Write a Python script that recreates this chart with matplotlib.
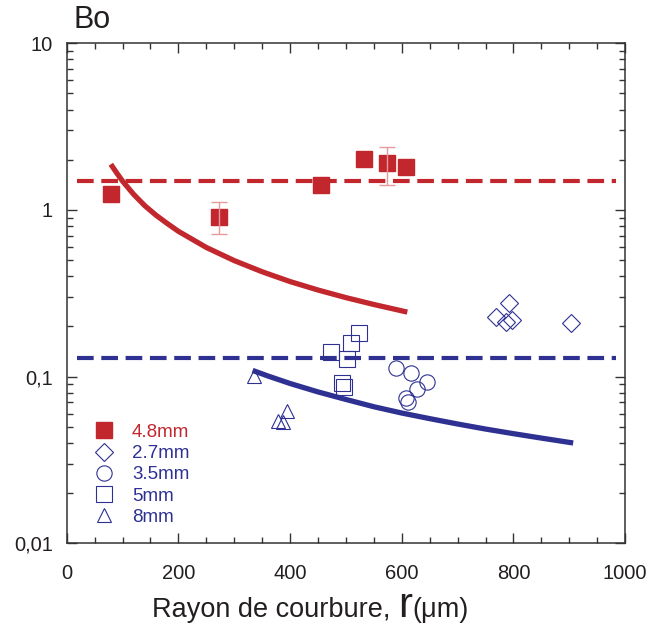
import numpy as np
import matplotlib
matplotlib.use("Agg")
import matplotlib.pyplot as plt
from matplotlib.lines import Line2D
from matplotlib.ticker import FixedLocator, MultipleLocator, NullFormatter
from matplotlib.offsetbox import TextArea, HPacker, AnchoredOffsetbox

plt.rcParams['font.family'] = ['Liberation Sans', 'DejaVu Sans']
plt.rcParams['lines.scale_dashes'] = False

RED = '#C1272D'
BLUE = '#2E3192'
INK = '#231F20'

# 4.8mm (carres pleins)
r_48 = [79, 273, 456, 532, 573, 608]
bo_48 = [1.24, 0.91, 1.42, 2.01, 1.91, 1.81]
err_lo_48 = [0, 0.195, 0, 0, 0.50, 0]
err_hi_48 = [0, 0.20, 0, 0, 0.49, 0]

# 2.7mm
r_27 = [768, 792, 787, 797, 904]
bo_27 = [0.227, 0.275, 0.212, 0.219, 0.209]

# 3.5mm
r_35 = [589, 616, 646, 627, 607, 611]
bo_35 = [0.113, 0.105, 0.0924, 0.0839, 0.0748, 0.0701]

# 5mm
r_5 = [524, 510, 473, 502, 493, 497]
bo_5 = [0.184, 0.159, 0.141, 0.128, 0.0917, 0.0862]

# 8mm
r_8 = [335, 395, 379, 387]
bo_8 = [0.101, 0.0625, 0.0545, 0.0532]

# courbes
curve_red_r = [79, 90, 100, 120, 140, 160, 180, 200, 250, 300, 350, 400, 450, 500, 550, 610]
curve_red_bo = [1.88, 1.66, 1.49, 1.24, 1.06, 0.93, 0.83, 0.745, 0.596, 0.497, 0.426, 0.372,
                0.331, 0.298, 0.271, 0.244]
curve_blue_r = [333, 360, 400, 450, 500, 550, 600, 650, 700, 750, 800, 850, 907]
curve_blue_bo = [0.109, 0.101, 0.091, 0.081, 0.073, 0.066, 0.0605, 0.056, 0.052, 0.0485,
                 0.0455, 0.0428, 0.040]

# seuils horizontaux
dash_r = [19, 983]
dash_red_bo = [1.5, 1.5]
dash_blue_bo = [0.13, 0.13]

y_ticks = [0.01, 0.1, 1, 10]
y_labels = ['0,01', '0,1', '1', '10']
legend_labels = ['4.8mm', '2.7mm', '3.5mm', '5mm', '8mm']

fig = plt.figure(figsize=(6.5, 6.34), dpi=100)
ax = fig.add_axes([0.1026, 0.1430, 0.8591, 0.7887])

ax.plot(dash_r, dash_red_bo, color=RED, lw=3, dashes=(12, 5.5))
ax.plot(dash_r, dash_blue_bo, color=BLUE, lw=3, dashes=(12, 5.5))
ax.plot(curve_red_r, curve_red_bo, color=RED, lw=3.8, solid_capstyle='butt')
ax.plot(curve_blue_r, curve_blue_bo, color=BLUE, lw=3.8, solid_capstyle='butt')

hollow = dict(ls='none', mfc='none', mec=BLUE, mew=0.8)
ax.plot(r_27, bo_27, marker='D', ms=9.5, **hollow)
ax.plot(r_35, bo_35, marker='o', ms=11, **hollow)
ax.plot(r_5, bo_5, marker='s', ms=11, **hollow)
ax.plot(r_8, bo_8, marker='^', ms=10.5, **hollow)
ax.plot(r_48, bo_48, ls='none', marker='s', ms=11.5, mfc=RED, mec=RED)

yerr = np.array([err_lo_48, err_hi_48])
mask = yerr.sum(axis=0) > 0
ax.errorbar(np.array(r_48)[mask], np.array(bo_48)[mask], yerr=yerr[:, mask],
            fmt='none', ecolor='#E69A9E', elinewidth=1, capsize=6, capthick=1)

ax.set_yscale('log')
ax.set_xlim(0, 1000)
ax.set_ylim(0.01, 10)
ax.xaxis.set_major_locator(MultipleLocator(200))
ax.xaxis.set_minor_locator(MultipleLocator(50))
ax.yaxis.set_major_locator(FixedLocator(y_ticks))
ax.set_yticklabels(y_labels)
ax.yaxis.set_minor_formatter(NullFormatter())

for s in ax.spines.values():
    s.set_linewidth(1.1)
    s.set_color('#333333')
ax.tick_params(which='both', direction='in', top=True, right=True,
               color='#333333', width=1.0)
ax.tick_params(which='major', length=7, labelsize=14.5, labelcolor=INK)
ax.tick_params(which='minor', length=4.5)
ax.tick_params(axis='y', which='major', pad=10)
ax.tick_params(axis='x', which='major', pad=15)

handles = [
    Line2D([], [], ls='none', marker='s', ms=11.5, mfc=RED, mec=RED),
    Line2D([], [], marker='D', ms=9.5, **hollow),
    Line2D([], [], marker='o', ms=11, **hollow),
    Line2D([], [], marker='s', ms=11, **hollow),
    Line2D([], [], marker='^', ms=10.5, **hollow),
]
ax.legend(handles, legend_labels, loc='upper left', bbox_to_anchor=(0.033, 0.258),
          frameon=False, fontsize=13.5, handlelength=1.0, handletextpad=1.0,
          labelspacing=0.22, borderpad=0, labelcolor=[RED, BLUE, BLUE, BLUE, BLUE])

fig.text(74 / 650, 1 - 28 / 634, 'Bo', fontsize=22, color=INK, va='baseline')

parts = [TextArea('Rayon de courbure, ', textprops=dict(fontsize=19.5, color=INK)),
         TextArea('r', textprops=dict(fontsize=30, color=INK)),
         TextArea('(μm)', textprops=dict(fontsize=19.5, color=INK))]
label = HPacker(children=parts, align='baseline', pad=0, sep=0)
fig.add_artist(AnchoredOffsetbox(loc='center', child=label, frameon=False,
                                 bbox_to_anchor=(0.477, 1 - 606 / 634),
                                 bbox_transform=fig.transFigure, borderpad=0))

fig.savefig('out.png', dpi=100)
